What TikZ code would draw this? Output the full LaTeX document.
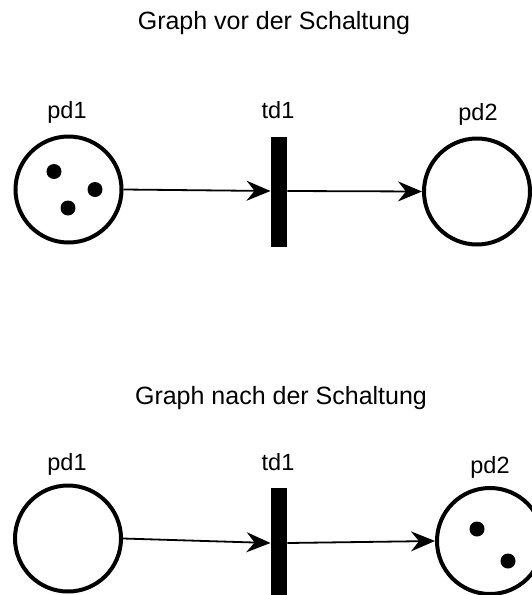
\documentclass[tikz,border=0pt]{standalone}
\usepackage{fontspec}
\setmainfont{Liberation Sans}
\usetikzlibrary{arrows.meta}
\begin{document}
\begin{tikzpicture}[x=1pt,y=-1pt,
  place/.style={draw,line width=4pt,circle,minimum size=106pt,inner sep=0pt},
  trans/.style={fill=black,draw=none,minimum width=16.5pt,minimum height=110pt,inner sep=0pt},
  token/.style={fill=black,circle,minimum size=15pt,inner sep=0pt},
  lbl/.style={anchor=base,inner sep=0pt,font=\fontsize{23.5}{28}\selectfont},
  ttl/.style={anchor=base,inner sep=0pt,font=\fontsize{25}{30}\selectfont},
  arc/.style={line width=1.8pt,-{Stealth[length=24pt,width=20pt,inset=8pt]}}]
\useasboundingbox (0,0) rectangle (531,595);
% top graph
\node[ttl] (t1) at (274,29) {Graph vor der Schaltung};
\node[place] (a1) at (68.5,189.5) {};
\node[trans] (b1) at (279,192) {};
\node[place] (c1) at (477,191.5) {};
\node[token] (k1) at (54,171.5) {};
\node[token] (k2) at (95,189.5) {};
\node[token] (k3) at (68,208) {};
\node[lbl] (la1) at (67,118) {pd1};
\node[lbl] (lb1) at (278,118) {td1};
\node[lbl] (lc1) at (478,120) {pd2};
\draw[arc] (a1.east) -- (b1.west |- 0,191);
\draw[arc] (b1.east |- 0,191) -- (c1.west);
% bottom graph
\node[ttl] (t2) at (281,404) {Graph nach der Schaltung};
\node[place] (a2) at (68,538.5) {};
\node[trans] (b2) at (279,543) {};
\node[place] (c2) at (490,541) {};
\node[token] (k4) at (477,529) {};
\node[token] (k5) at (508,561) {};
\node[lbl] (la2) at (67,470) {pd1};
\node[lbl] (lb2) at (278,470) {td1};
\node[lbl] (lc2) at (490,473) {pd2};
\draw[arc] (a2.east) -- (b2.west |- 0,543);
\draw[arc] (b2.east |- 0,543) -- (c2.west);
\end{tikzpicture}
\end{document}
